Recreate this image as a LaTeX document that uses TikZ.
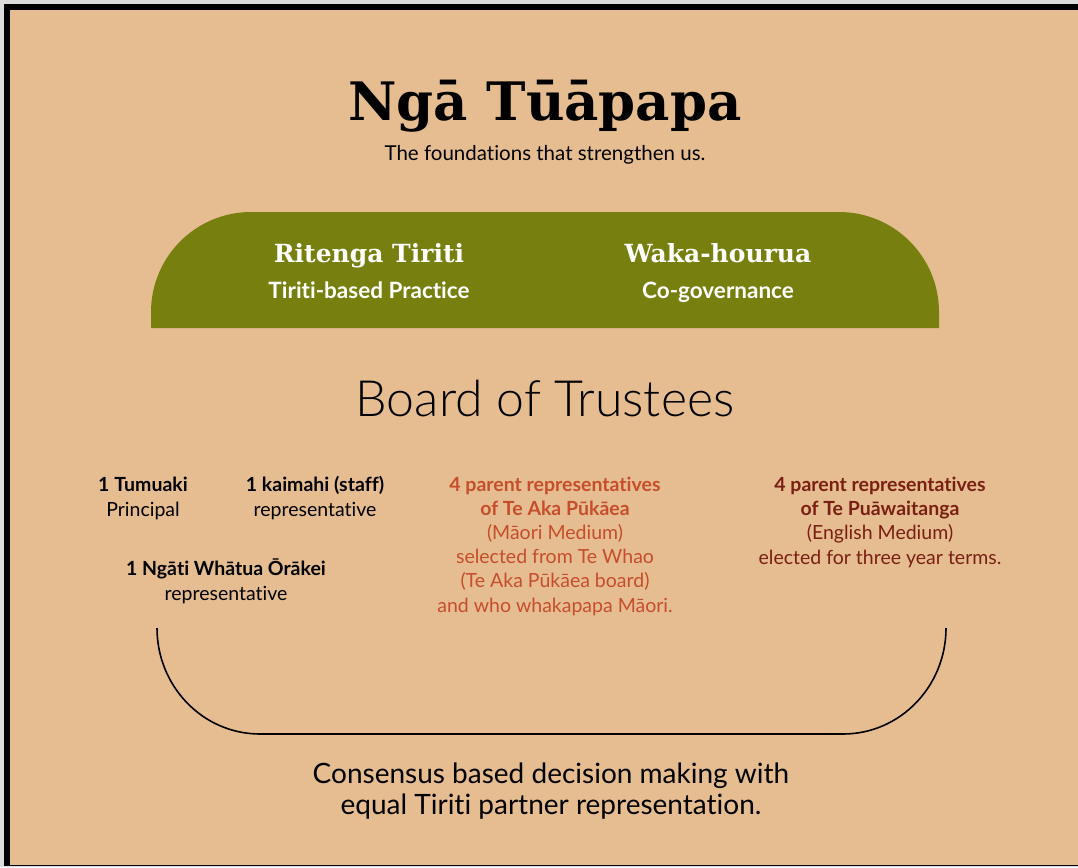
\documentclass[tikz,border=0pt]{standalone}
\usepackage{fontspec}
\setmainfont{Lato}[Ligatures=NoCommon]
\newfontfamily\lightfont{Lato Light}[Ligatures=NoCommon]
\newfontfamily\slabfont{DejaVu Serif}
\usepackage{tikz}
\usetikzlibrary{positioning}
\definecolor{sand}{HTML}{E5BD91}
\definecolor{olive}{HTML}{77800E}
\definecolor{rust}{HTML}{C64E2A}
\definecolor{maroon}{HTML}{7A1F13}
\definecolor{edge}{HTML}{DCDCDC}

\begin{document}
\begin{tikzpicture}[x=1pt, y=-1pt, inner sep=0pt,
      heading/.style={anchor=base, font=\slabfont\bfseries\fontsize{53}{60}\selectfont},
      subhead/.style={anchor=base, font=\fontsize{20.5}{24}\selectfont},
      pillar/.style={anchor=base, text=white, font=\slabfont\bfseries\fontsize{25}{28}\selectfont},
      pillarsub/.style={anchor=base, text=white, font=\bfseries\fontsize{22.5}{26}\selectfont},
      board/.style={anchor=base, font=\lightfont\fontsize{50}{54}\selectfont},
      member/.style={anchor=base, align=center, font=\fontsize{19.5}{24.2}\selectfont},
      footer/.style={anchor=base, align=center, font=\fontsize{28}{31}\selectfont}]
      % frame
      \useasboundingbox (0,0) rectangle (1078,867);
      \fill[edge] (0,0) rectangle (1078,867);
      \fill[black] (4,4) rectangle (1078,866);
      \fill[sand] (10,10) rectangle (1078,864.5);
      \node[heading] (title) at (545,120) {Ngā Tūāpapa};
      \node[subhead] (tagline) at (545,160) {The foundations that strengthen us.};
      % green banner
      \fill[olive] (151,328) -- (151,312) .. controls (151,256.8) and (195.8,212) .. (251,212)
            -- (839,212) .. controls (894.2,212) and (939,256.8) .. (939,312) -- (939,328) -- cycle;
      \node[pillar] (ritenga) at (369,262) {Ritenga Tiriti};
      \node[pillarsub] (practice) at (369,298) {Tiriti-based Practice};
      \node[pillar] (waka) at (718,262) {Waka-hourua};
      \node[pillarsub] (cogov) at (718,298) {Co-governance};
      \node[board] (trustees) at (545,416) {Board of Trustees};
      % members (base = last line)
      \node[member] (tumuaki) at (143,516) {\textbf{1 Tumuaki}\\Principal};
      \node[member] (kaimahi) at (315,516) {\textbf{1 kaimahi (staff)}\\representative};
      \node[member] (ngati) at (226,600) {\textbf{1 Ngāti Whātua Ōrākei}\\representative};
      \node[member, text=rust] (akapukaea) at (555,612) {\textbf{4 parent representatives}\\\textbf{of Te Aka Pūkāea}\\(Māori Medium)\\selected from Te Whao\\(Te Aka Pūkāea board)\\and who whakapapa Māori.};
      \node[member, text=maroon] (puawaitanga) at (880,564) {\textbf{4 parent representatives}\\\textbf{of Te Puāwaitanga}\\(English Medium)\\elected for three year terms.};
      % bracket under the members
      \draw[line width=1.6pt] (157,628) .. controls (157,686.5) and (203,734) .. (260,734)
            -- (843,734) .. controls (900,734) and (946,686.5) .. (946,628);
      \node[footer] (consensus) at (551,814) {Consensus based decision making with\\equal Tiriti partner representation.};
  \end{tikzpicture}
\end{document}
